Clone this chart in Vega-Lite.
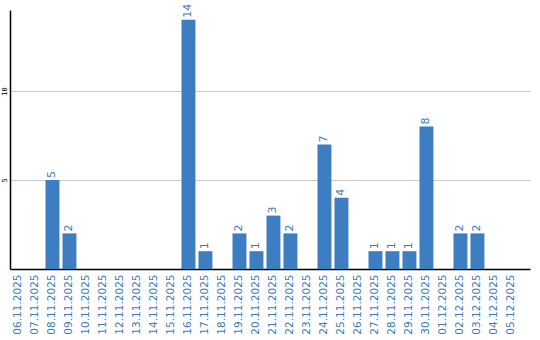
{
  "$schema": "https://vega.github.io/schema/vega-lite/v6.json",
  "width": 520,
  "height": 259,
  "autosize": "none",
  "padding": {"left": 10, "top": 10, "right": 10, "bottom": 71},
  "background": "white",
  "config": {"view": {"stroke": null}},
  "data": {"values": [
    {"date": "06.11.2025", "count": 0},
    {"date": "07.11.2025", "count": 0},
    {"date": "08.11.2025", "count": 5},
    {"date": "09.11.2025", "count": 2},
    {"date": "10.11.2025", "count": 0},
    {"date": "11.11.2025", "count": 0},
    {"date": "12.11.2025", "count": 0},
    {"date": "13.11.2025", "count": 0},
    {"date": "14.11.2025", "count": 0},
    {"date": "15.11.2025", "count": 0},
    {"date": "16.11.2025", "count": 14},
    {"date": "17.11.2025", "count": 1},
    {"date": "18.11.2025", "count": 0},
    {"date": "19.11.2025", "count": 2},
    {"date": "20.11.2025", "count": 1},
    {"date": "21.11.2025", "count": 3},
    {"date": "22.11.2025", "count": 2},
    {"date": "23.11.2025", "count": 0},
    {"date": "24.11.2025", "count": 7},
    {"date": "25.11.2025", "count": 4},
    {"date": "26.11.2025", "count": 0},
    {"date": "27.11.2025", "count": 1},
    {"date": "28.11.2025", "count": 1},
    {"date": "29.11.2025", "count": 1},
    {"date": "30.11.2025", "count": 8},
    {"date": "01.12.2025", "count": 0},
    {"date": "02.12.2025", "count": 2},
    {"date": "03.12.2025", "count": 2},
    {"date": "04.12.2025", "count": 0},
    {"date": "05.12.2025", "count": 0}
  ]},
  "encoding": {
    "x": {
      "field": "date", "type": "nominal", "sort": null,
      "scale": {"paddingInner": 0.18, "paddingOuter": 0.385, "align": 0.115},
      "axis": {
        "title": null, "labelAngle": -90, "labelColor": "#3a7bc0",
        "labelFont": "DejaVu Sans", "labelFontSize": 10.5, "ticks": false,
        "labelPadding": 5, "domainColor": "#000000", "domainWidth": 1.5,
        "labelOverlap": false
      }
    },
    "y": {
      "field": "count", "type": "quantitative",
      "scale": {"domain": [0, 14.55], "nice": false},
      "axis": {
        "title": null, "values": [5, 10], "labelAngle": -90,
        "labelFont": "DejaVu Sans Mono", "labelFontSize": 7, "labelColor": "#000000",
        "ticks": false, "labelPadding": 3, "gridColor": "#cccccc", "domainColor": "#000000",
        "domainWidth": 1.5, "labelAlign": "center", "labelBaseline": "bottom"
      }
    }
  },
  "layer": [
    {"mark": {"type": "bar", "color": "#3d7ec3"}},
    {
      "transform": [{"filter": "datum.count > 0"}],
      "mark": {"type": "text", "align": "left", "baseline": "middle", "dx": 2, "color": "#3a7bc0", "font": "DejaVu Sans", "fontSize": 11},
      "encoding": {
        "text": {"field": "count", "type": "quantitative"},
        "angle": {"value": 270}
      }
    }
  ]
}
